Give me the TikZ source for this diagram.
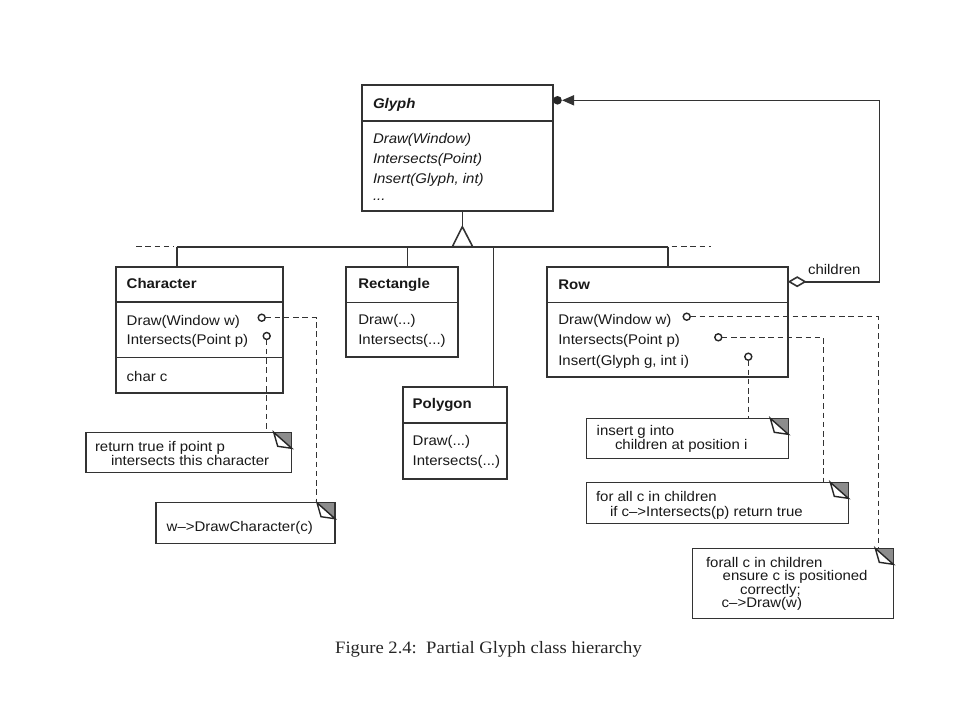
\documentclass[tikz,border=0pt]{standalone}
\usepackage{fontspec}
\setmainfont{Liberation Sans}[FakeStretch=1.07]
\newfontfamily\capfont{Liberation Serif}[FakeStretch=1.07]
\usetikzlibrary{arrows.meta,calc}
\newcommand\notefold[1]{%
  \fill[black!45] ($(#1.north east)+(-18,0)$) -- (#1.north east) -- ($(#1.north east)+(0,16)$) -- cycle;
  \draw[draw=black!80, line width=1.5pt] ($(#1.north east)+(-18,0)$) -- (#1.north east) -- ($(#1.north east)+(0,16)$);
  \draw[draw=black!85, line width=1.4pt, fill=white, line join=miter] ($(#1.north east)+(-18,0)$) -- ($(#1.north east)+(0,16)$) -- ($(#1.north east)+(-14,14)$) -- cycle;
}
\begin{document}
\begin{tikzpicture}[x=1pt,y=-1pt,
  line/.style={draw=black!80, line width=1.6pt},
  classbox/.style={draw=black!80, line width=1.7pt, fill=white, anchor=north west, inner sep=0pt, outer sep=0pt},
  notebox/.style={draw=black!80, line width=1.5pt, fill=white, anchor=north west, inner sep=0pt, outer sep=0pt},
  txt/.style={anchor=base west, inner sep=0pt, outer sep=0pt, font=\fontsize{14}{14}\selectfont, text=black!90},
  ttl/.style={txt, font=\fontsize{14}{14}\selectfont\bfseries},
  itl/.style={txt, font=\fontsize{14}{14}\selectfont\itshape},
  dashline/.style={draw=black!80, line width=1.5pt, dash pattern=on 5.5pt off 3.8pt},
  pin/.style={circle, draw=black!85, line width=1.4pt, fill=white, inner sep=0pt, minimum size=7pt, outer sep=0pt}
]
\useasboundingbox (0,0) rectangle (960,720);
\fill[white] (0,0) rectangle (960,720);

% ---------- class boxes ----------
\node[classbox, minimum width=190.7pt, minimum height=125.7pt] (glyph) at (362,85) {};
\draw[line] ($(glyph.north west)+(0,36)$) -- ($(glyph.north east)+(0,36)$);
\node[txt, font=\fontsize{14}{14}\selectfont\bfseries\itshape] (glyphT) at (373,108) {Glyph};
\node[itl] (g1) at (373,143) {Draw(Window)};
\node[itl] (g2) at (373,163) {Intersects(Point)};
\node[itl] (g3) at (373,183) {Insert(Glyph, int)};
\node[itl] (g4) at (373,200) {...};

\node[classbox, minimum width=167pt, minimum height=125.4pt] (char) at (115.7,267.3) {};
\draw[line] ($(char.north west)+(0,34.7)$) -- ($(char.north east)+(0,34.7)$);
\draw[line] ($(char.north west)+(0,90)$) -- ($(char.north east)+(0,90)$);
\node[ttl] (charT) at (126.7,288) {Character};
\node[txt] (c1) at (126.7,325) {Draw(Window w)};
\node[txt] (c2) at (126.7,344) {Intersects(Point p)};
\node[txt] (c3) at (126.7,381) {char c};

\node[classbox, minimum width=111.7pt, minimum height=90pt] (rect) at (346,267.3) {};
\draw[line] ($(rect.north west)+(0,35)$) -- ($(rect.north east)+(0,35)$);
\node[ttl] (rectT) at (358.3,288) {Rectangle};
\node[txt] (r1) at (358.3,324) {Draw(...)};
\node[txt] (r2) at (358.3,344) {Intersects(...)};

\node[classbox, minimum width=104.6pt, minimum height=92.6pt] (poly) at (402.7,386.7) {};
\draw[line] ($(poly.north west)+(0,36)$) -- ($(poly.north east)+(0,36)$);
\node[ttl] (polyT) at (412.7,408.5) {Polygon};
\node[txt] (p1) at (412.7,445) {Draw(...)};
\node[txt] (p2) at (412.7,465) {Intersects(...)};

\node[classbox, minimum width=240.4pt, minimum height=110pt] (row) at (547.3,267.3) {};
\draw[line] ($(row.north west)+(0,35)$) -- ($(row.north east)+(0,35)$);
\node[ttl] (rowT) at (558.3,289) {Row};
\node[txt] (w1) at (558.3,324) {Draw(Window w)};
\node[txt] (w2) at (558.3,344) {Intersects(Point p)};
\node[txt] (w3) at (558.3,365) {Insert(Glyph g, int i)};

% ---------- inheritance ----------
\coordinate (apex) at (462.3,226.7);
\coordinate (bL) at (452.3,246.7);
\coordinate (bR) at (472.7,246.7);
\coordinate (busC) at (176.7,246.7);
\coordinate (busRect) at (407.3,246.7);
\coordinate (busPoly) at (493.3,246.7);
\coordinate (busRow) at (667.7,246.7);
\coordinate (busLend) at (136,246.7);
\coordinate (busRend) at (711,246.7);
\draw[line] (glyph.south -| apex) -- (apex);
\draw[line] (busC) -- (busRow);
\draw[line, fill=white, line join=miter] (apex) -- (bL) -- (bR) -- cycle;
\draw[line] (busC) -- (busC |- char.north);
\draw[line] (busRect) -- (busRect |- rect.north);
\draw[line] (busPoly) -- (busPoly |- poly.north);
\draw[line] (busRow) -- (busRow |- row.north);
\draw[dashline] (busLend) -- ($(busC)+(-3,0)$);
\draw[dashline] ($(busRow)+(4,0)$) -- (busRend);

% ---------- aggregation ----------
\coordinate (aggS) at ($(row.north east)+(0,14.4)$);
\coordinate (aggC1) at (879.3,281.7);
\coordinate (aggC2) at (879.3,100.3);
\coordinate (aggE) at (562,100.3);
\draw[line, line join=miter, {Diamond[open,length=19pt,width=11pt]}-{Triangle[length=12pt,width=10pt]}] (aggS) -- (aggC1) -- (aggC2) -- (aggE);
\fill[black!85] ($(glyph.north east)+(4.8,15.3)$) circle (4.3pt);
\node[txt] (chl) at (808,274) {children};

% ---------- notes ----------
\node[notebox, minimum width=205.7pt, minimum height=40.4pt] (n1) at (86,432.3) {};
\notefold{n1}
\node[txt] (n1a) at (95,451) {return true if point p};
\node[txt] (n1b) at (111,465.5) {intersects this character};

\node[notebox, minimum width=179pt, minimum height=40.6pt] (n2) at (156,502.7) {};
\notefold{n2}
\node[txt] (n2a) at (166.7,531) {w\textendash>DrawCharacter(c)};

\node[notebox, minimum width=201.6pt, minimum height=40pt] (n3) at (586.7,418.3) {};
\notefold{n3}
\node[txt] (n3a) at (596.7,435) {insert g into};
\node[txt] (n3b) at (615,449.5) {children at position i};

\node[notebox, minimum width=261.6pt, minimum height=41pt] (n4) at (586.7,482.3) {};
\notefold{n4}
\node[txt] (n4a) at (596,501) {for all c in children};
\node[txt] (n4b) at (610,516) {if c\textendash>Intersects(p) return true};

\node[notebox, minimum width=200.6pt, minimum height=70pt] (n5) at (692.7,548.3) {};
\notefold{n5}
\node[txt] (n5a) at (706,567) {forall c in children};
\node[txt] (n5b) at (722.7,580.5) {ensure c is positioned};
\node[txt] (n5c) at (740,594) {correctly;};
\node[txt] (n5d) at (721.7,607.5) {c\textendash>Draw(w)};

% ---------- note links ----------
\node[pin] (cdp) at (261.7,317.7) {};
\node[pin] (cip) at (266.7,336) {};
\node[pin] (wdp) at (686.7,316.7) {};
\node[pin] (wip) at (718.3,337.3) {};
\node[pin] (wsp) at (748.3,356.7) {};
\coordinate (n1in) at (266.7,432.3);
\coordinate (n2in) at (316.7,502.7);
\coordinate (n3in) at (748.3,418.3);
\coordinate (n4in) at (823.3,482.3);
\coordinate (n5in) at (878.3,548.3);
\draw[dashline] (cdp.east) -| (n2in);
\draw[dashline] (cip.south) -- (n1in);
\draw[dashline] (wdp.east) -| (n5in);
\draw[dashline] (wip.east) -| (n4in);
\draw[dashline] (wsp.south) -- (n3in);

% ---------- caption ----------
\node[anchor=base west, inner sep=0pt, font=\capfont\fontsize{17.4}{17.4}\selectfont, text=black!85] (cap) at (335,653) {Figure 2.4:\ \ Partial Glyph class hierarchy};
\end{tikzpicture}
\end{document}
